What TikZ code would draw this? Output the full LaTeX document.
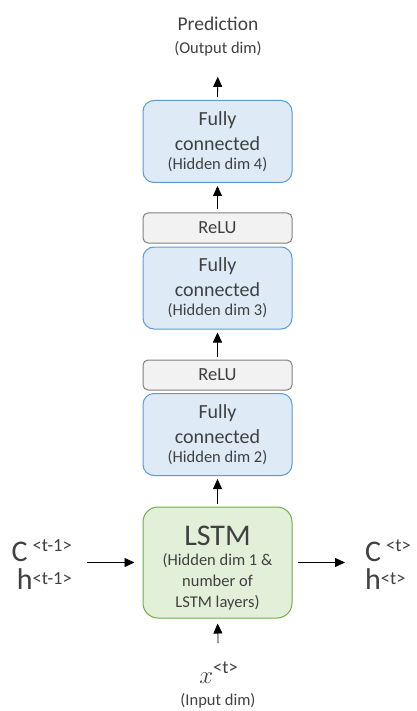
\documentclass[tikz,border=0pt]{standalone}
\usepackage{fontspec}
\setmainfont{Carlito}
\usetikzlibrary{arrows.meta,positioning}
\definecolor{txtgray}{HTML}{404040}
\definecolor{fcfill}{HTML}{DEEBF7}
\definecolor{fcline}{HTML}{5B9BD5}
\definecolor{relufill}{HTML}{F2F2F2}
\definecolor{reluline}{HTML}{7F7F7F}
\definecolor{lstmfill}{HTML}{E2F0D9}
\definecolor{lstmline}{HTML}{70AD47}
\newcommand{\sups}[2][8pt]{\raisebox{#1}{\fontsize{18.5}{18.5}\selectfont #2}}
\newcommand{\smalltxt}{\fontsize{16.5}{19}\selectfont}

\begin{document}
\begin{tikzpicture}[x=1pt, y=-1pt,
  arr/.style={-{Triangle[length=10pt,width=9pt]}, line width=0.8pt, shorten >=3pt, shorten <=3pt},
  fcbox/.style={draw=fcline, fill=fcfill, line width=1pt, rounded corners=11pt,
                minimum width=149pt, minimum height=82pt, align=center,
                text=txtgray, font=\fontsize{20}{25}\selectfont},
  relubox/.style={draw=reluline, fill=relufill, line width=1pt, rounded corners=5pt,
                  minimum width=149pt, minimum height=30pt,
                  text=txtgray, font=\fontsize{18.5}{22}\selectfont},
  lstmbox/.style={draw=lstmline, fill=lstmfill, line width=1pt, rounded corners=15pt,
                  minimum width=149pt, minimum height=111pt, align=center,
                  text=txtgray, font=\fontsize{16.5}{21}\selectfont},
  lbl/.style={text=txtgray, inner sep=0pt, font=\fontsize{30}{28}\selectfont},
  note/.style={text=txtgray, anchor=base, inner sep=2pt},
]
\useasboundingbox (0,0) rectangle (416,711);

\node[note, font=\fontsize{19.5}{22}\selectfont] (pred) at (218,31) {Prediction};
\node[note, font=\smalltxt] (outdim) at (218,54) {(Output dim)};

\node[fcbox] (fc4) at (217.5,141.5)
  {Fully\\connected\\[-6pt]{\smalltxt (Hidden dim 4)}};
\node[relubox] (relu4) at (217.5,228) {ReLU};
\node[fcbox] (fc3) at (217.5,288)
  {Fully\\connected\\[-6pt]{\smalltxt (Hidden dim 3)}};
\node[relubox] (relu3) at (217.5,375) {ReLU};
\node[fcbox] (fc2) at (217.5,434.5)
  {Fully\\connected\\[-6pt]{\smalltxt (Hidden dim 2)}};

\node[lstmbox] (lstm) at (217.5,562.5)
  {{\fontsize{30}{30}\selectfont\rule{0pt}{30pt}LSTM}\\[-1pt]
   (Hidden dim 1 \&\\number of\\LSTM layers)};

\node[lbl, align=right, anchor=east] (prev) at (72,565)
  {C\,\sups[10pt]{<t-1>}\\h\sups[5pt]{<t-1>}};
\node[lbl, align=left, anchor=west] (next) at (365,565)
  {C\,\sups[10pt]{<t>}\\h\sups[5pt]{<t>}};

\node[note, font=\fontsize{32}{32}\selectfont] (xin) at (218.5,683) {$x$\sups[10pt]{<t>}};
\node[note, font=\smalltxt] (indim) at (218,705) {(Input dim)};

\draw[arr, shorten >=18pt] (fc4.north) -- (outdim.south);
\draw[arr] (relu4.north) -- (fc4.south);
\draw[arr] (relu3.north) -- (fc3.south);
\draw[arr] (lstm.north)  -- (fc2.south);
\draw[arr, shorten <=16pt, shorten >=5pt] (xin.north) -- (lstm.south);
\draw[arr, shorten <=15pt, shorten >=8pt] (prev.east |- lstm.west) -- (lstm.west);
\draw[arr, shorten <=5pt, shorten >=20pt] (lstm.east) -- (lstm.east -| next.west);
\end{tikzpicture}
\end{document}
